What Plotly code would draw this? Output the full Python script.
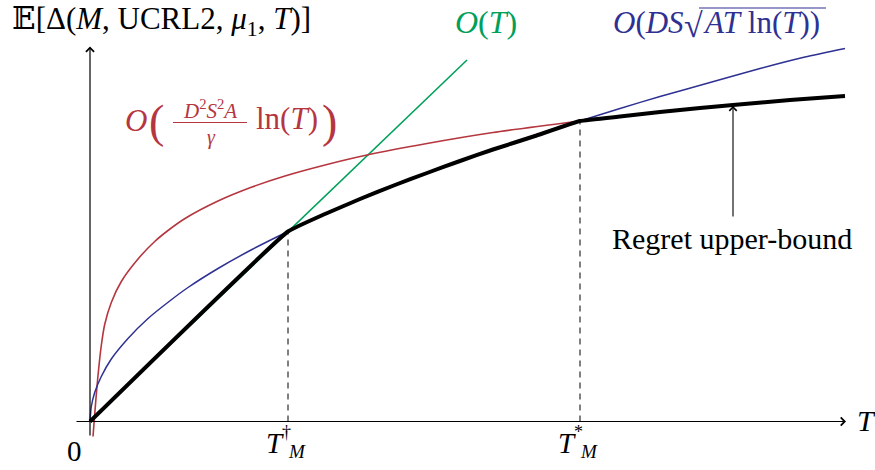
import plotly.graph_objects as go

# ---------------- data (T in arbitrary "pixel" units) -------------
T_dagger = 198
T_star = 490
y_dagger = 190
y_star = 300.5

# O(T)  linear regime
lin_T = [0, 377]
lin_y = [0, 361.5]

# O(DS sqrt(AT ln T))
sqrt_T = [0, 1.3, 4.7, 11.3, 21.3, 38, 58, 81, 98, 128, 162, 198, 235, 270, 305, 337,
          370, 403, 445, 490, 530, 570, 620, 670, 715, 755]
sqrt_y = [0, 15, 29, 45, 62.5, 83, 103, 121.5, 134, 153, 172, 190, 207.5, 222.5, 236.5, 248.5,
          260.5, 272, 285.5, 300.5, 313, 325, 339, 353, 364.5, 373]

# O(D^2 S^2 A / gamma ln T)
log_T = [3, 4, 5, 6.3, 8, 11.3, 14.7, 21.3, 31.3, 48, 64.7, 78, 95, 128, 162, 195,
         237, 277, 337, 403, 490]
log_y = [-15, -2, 11, 27, 46, 76, 97, 119, 140, 162.5, 180, 191, 203, 220.5, 234.5, 245.5,
         257, 266.5, 278, 289, 300.5]

# regret upper-bound (min of the three)
reg_T = [0, 198, 235, 270, 305, 337, 370, 403, 445, 490, 530, 570, 610, 643, 700, 755]
reg_y = [0, 190, 207.5, 222.5, 236.5, 248.5, 260.5, 272, 285.5, 300.5, 305, 309.5, 313.5,
         316.5, 321.5, 325.5]

tick_labels = ["0", "T", "M"]

# ---------------- styling -------------
RED = "#B5363F"
BLUE = "#2E3192"
GREEN = "#00A05A"
FONT = "Liberation Serif, Times New Roman, DejaVu Serif, serif"

# pixel helpers (layout only)
def X(px):
    return px - 90

def Y(py):
    return 421.5 - py

fig = go.Figure()

fig.add_trace(go.Scatter(x=lin_T, y=lin_y, mode="lines",
                         line=dict(color=GREEN, width=1.6)))
fig.add_trace(go.Scatter(x=log_T, y=log_y, mode="lines",
                         line=dict(color=RED, width=1.6, shape="spline", smoothing=0.6)))
fig.add_trace(go.Scatter(x=sqrt_T, y=sqrt_y, mode="lines",
                         line=dict(color=BLUE, width=1.5, shape="spline", smoothing=0.6)))
fig.add_trace(go.Scatter(x=[T_dagger, T_dagger], y=[0, y_dagger], mode="lines",
                         line=dict(color="black", width=1, dash="6px,5px")))
fig.add_trace(go.Scatter(x=[T_star, T_star], y=[0, y_star], mode="lines",
                         line=dict(color="black", width=1, dash="6px,5px")))
fig.add_trace(go.Scatter(x=reg_T, y=reg_y, mode="lines",
                         line=dict(color="black", width=4, shape="spline", smoothing=0.3)))

ann = []

def txt(x, y, t, size=29, color="black", xanchor="center", yanchor="middle"):
    ann.append(dict(x=x, y=y, xref="x", yref="y", text=t, showarrow=False,
                    xanchor=xanchor, yanchor=yanchor,
                    font=dict(family=FONT, size=size, color=color)))

def arrow(x, y, ax, ay, width=1.2, size=1.3):
    ann.append(dict(x=x, y=y, ax=ax, ay=ay, xref="x", yref="y", axref="x", ayref="y",
                    text="", showarrow=True, arrowhead=4, arrowsize=size,
                    arrowwidth=width, arrowcolor="black", standoff=0, startstandoff=0))

# axes
arrow(X(846), 0, X(75), 0)
arrow(0, Y(46.5), 0, Y(437))

# y title
txt(X(10), Y(21), "𝔼[Δ(<i>M</i>, UCRL2, <i>μ</i><sub>1</sub>, <i>T</i>)]", size=31,
    xanchor="left")
# axis labels
txt(X(866), Y(420), "<i>T</i>", size=30)
txt(X(74), Y(451), tick_labels[0], size=29)
for Tx, sym in [(T_dagger, "†"), (T_star, "*")]:
    txt(Tx - 13, Y(443), "<i>" + tick_labels[1] + "</i>", size=29)
    txt(Tx - 2, Y(432), sym, size=18)
    txt(Tx + 9, Y(451), "<i>" + tick_labels[2] + "</i>", size=19)

# O(T)
txt(X(486), Y(22), "<i>O</i>(<i>T</i>)", size=32, color=GREEN)

# O(DS sqrt(AT ln T))
txt(X(686), Y(22), "<i>O</i>(<i>DS</i>", size=31, color=BLUE, xanchor="right")
txt(X(693), Y(25), "√", size=34, color=BLUE)
txt(X(701), Y(22), "<i>AT</i> ln(<i>T</i>))", size=31, color=BLUE, xanchor="left")

# O(D^2S^2A/gamma ln T)
txt(X(136), Y(120), "<i>O</i>", size=31, color=RED)
txt(X(156), Y(121), "(", size=46, color=RED)
txt(X(210), Y(109), "<i>D</i><sup>2</sup><i>S</i><sup>2</sup><i>A</i>", size=21, color=RED)
txt(X(211), Y(137), "<i>γ</i>", size=20, color=RED)
txt(X(287), Y(118), "ln(<i>T</i>)", size=31, color=RED)
txt(X(329), Y(121), ")", size=46, color=RED)

# Regret upper-bound
txt(X(732), Y(238), "Regret upper-bound", size=30)
arrow(X(733), Y(106), X(733), Y(218), width=1.1, size=1.3)

shapes = [
    dict(type="line", xref="x", yref="y", x0=X(173), x1=X(247), y0=Y(122.5), y1=Y(122.5),
         line=dict(color=RED, width=1.1)),
    dict(type="line", xref="x", yref="y", x0=X(699), x1=X(826), y0=Y(8), y1=Y(8),
         line=dict(color=BLUE, width=1.1)),
]

fig.update_layout(
    width=875, height=470, autosize=False,
    margin=dict(l=0, r=0, t=0, b=0),
    paper_bgcolor="white", plot_bgcolor="white",
    showlegend=False,
    xaxis=dict(range=[X(0), X(875)], visible=False, fixedrange=True),
    yaxis=dict(range=[Y(470), Y(0)], visible=False, fixedrange=True),
    annotations=ann, shapes=shapes,
)

fig.write_html("out.html", config={"displayModeBar": False},
               post_script="document.body.style.margin='0';")
